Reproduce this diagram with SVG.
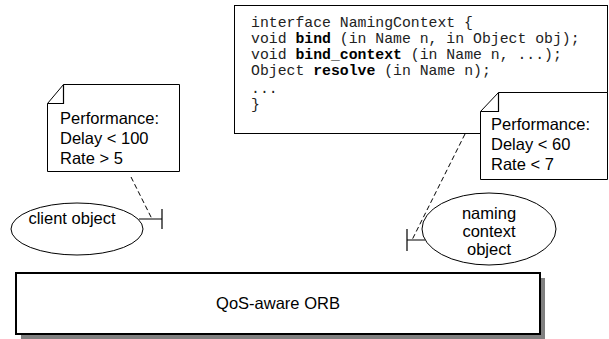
<svg xmlns="http://www.w3.org/2000/svg" width="609" height="339" viewBox="0 0 609 339">
<style>
.box{fill:#fff;stroke:#000;stroke-width:1}
.lbl{font-family:"Liberation Sans",Arial,sans-serif;font-size:16.5px;fill:#000}
.code{font-family:"Liberation Mono","Courier New",monospace;font-size:14.8px;fill:#222}
.b{font-weight:bold;fill:#000}
.dash{stroke:#000;stroke-width:1;stroke-dasharray:5,3;fill:none}
.ln{stroke:#000;stroke-width:1.2;fill:none}
</style>
<rect width="609" height="339" fill="#fff"/>
<g id="interface">
<rect class="box" x="234.5" y="5.5" width="373" height="128"/>
<text class="code" x="251" y="27">interface NamingContext {</text>
<text class="code" x="251" y="43">void <tspan class="b">bind</tspan> (in Name n, in Object obj);</text>
<text class="code" x="251" y="59">void <tspan class="b">bind_context</tspan> (in Name n, ...);</text>
<text class="code" x="251" y="75">Object <tspan class="b">resolve</tspan> (in Name n);</text>
<text class="code" x="251" y="93">...</text>
<text class="code" x="251" y="109">}</text>
</g>
<g id="note-right">
<path class="box" d="M480.5,111.5 L498.5,92.5 L607.5,92.5 L607.5,179.5 L480.5,179.5 Z"/>
<path class="ln" d="M480.5,111.5 L498.5,111.5 L498.5,92.5" stroke-width="1"/>
<text class="lbl" x="491" y="130">Performance:</text>
<text class="lbl" x="491" y="150">Delay &lt; 60</text>
<text class="lbl" x="491" y="170">Rate &lt; 7</text>
</g>
<g id="note-left">
<path class="box" d="M47.5,103.5 L63.5,84.5 L179.5,84.5 L179.5,171.5 L47.5,171.5 Z"/>
<path class="ln" d="M47.5,103.5 L63.5,103.5 L63.5,84.5" stroke-width="1"/>
<text class="lbl" x="60" y="124">Performance:</text>
<text class="lbl" x="60" y="144">Delay &lt; 100</text>
<text class="lbl" x="60" y="164">Rate &gt; 5</text>
</g>
<g id="client-object">
<ellipse class="box" cx="77" cy="229" rx="66" ry="26"/>
<text class="lbl" x="72" y="224" text-anchor="middle">client object</text>
</g>
<g id="naming-context-object">
<ellipse class="box" cx="489" cy="229" rx="67" ry="36"/>
<text class="lbl" x="489" y="219" text-anchor="middle">naming</text>
<text class="lbl" x="489" y="237" text-anchor="middle">context</text>
<text class="lbl" x="489" y="255" text-anchor="middle">object</text>
</g>
<g id="orb">
<rect x="21" y="278" width="524" height="61" fill="#808080"/>
<rect x="16" y="273" width="524" height="61" fill="#fff" stroke="#000" stroke-width="2"/>
<text class="lbl" x="278" y="309" text-anchor="middle">QoS-aware ORB</text>
</g>
<g id="connectors">
<path class="ln" d="M139,219 L162,219 M162,209 L162,229"/>
<path class="dash" d="M131,177 L152,219"/>
<path class="ln" d="M425,240 L407,240 M407,229 L407,251"/>
<path class="dash" d="M465,134 L412,240"/>
</g>
</svg>
